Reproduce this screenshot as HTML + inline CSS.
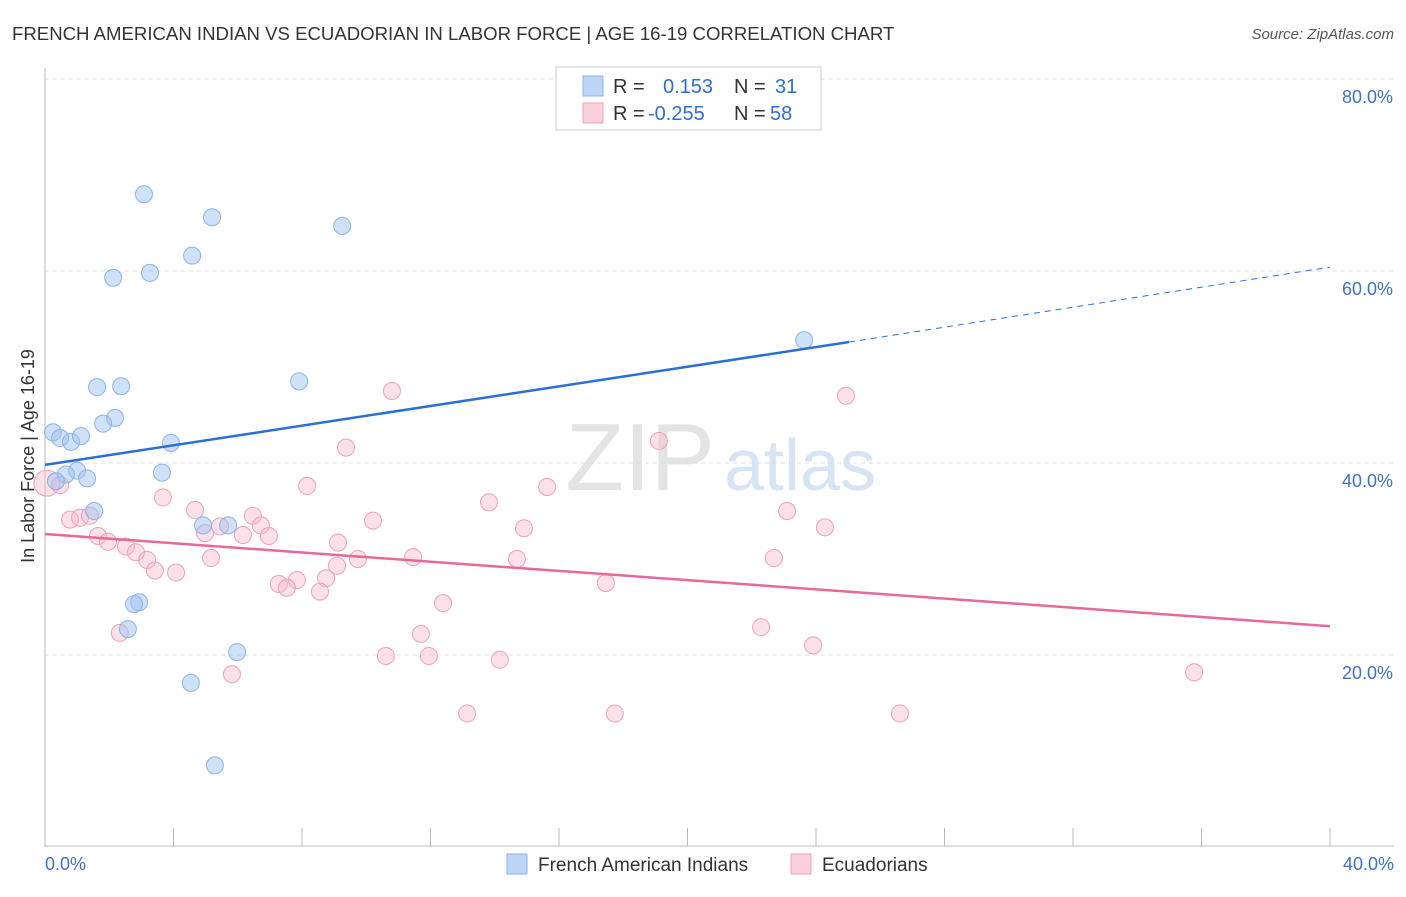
<!DOCTYPE html>
<html><head><meta charset="utf-8"><style>
body{margin:0;background:#fff;font-family:"Liberation Sans",sans-serif}
svg text{font-family:"Liberation Sans",sans-serif}
</style></head><body>
<svg id="c" width="1406" height="892">
<text x="12" y="40" font-size="18.6" fill="#333">FRENCH AMERICAN INDIAN VS ECUADORIAN IN LABOR FORCE | AGE 16-19 CORRELATION CHART</text>
<text x="1394" y="39" font-size="15" fill="#555" font-style="italic" text-anchor="end">Source: ZipAtlas.com</text>
<text x="640" y="490" font-size="96" fill="#e4e4e4" font-family="Liberation Serif" text-anchor="middle">ZIP</text>
<text x="800" y="490" font-size="72" fill="#d6e4f5" text-anchor="middle">atlas</text>
<g id="grid"></g><g id="axes"></g><g id="pts"></g><g id="lines"></g>
<text transform="translate(34,456) rotate(-90)" font-size="18" fill="#333" text-anchor="middle">In Labor Force | Age 16-19</text>
<text x="45" y="870" font-size="18" fill="#3d72c8">0.0%</text>
<text x="1394" y="870" font-size="18" fill="#3d72c8" text-anchor="end">40.0%</text>
<g>
<rect x="556" y="67" width="265" height="63" fill="#fff" stroke="#ccc"/>
<rect x="583" y="76" width="20" height="20" fill="#bcd5f5" stroke="#8ab4e8"/>
<rect x="583" y="103" width="20" height="20" fill="#fbd0dd" stroke="#f0a0b8"/>
<text x="613" y="93" font-size="20" fill="#333">R = <tspan x="663" fill="#2a6fd6">0.153</tspan><tspan x="734" fill="#333">N = </tspan><tspan x="775" fill="#2a6fd6">31</tspan></text>
<text x="613" y="120" font-size="20" fill="#333">R = <tspan x="648" fill="#2a6fd6">-0.255</tspan><tspan x="734" fill="#333">N = </tspan><tspan x="770" fill="#2a6fd6">58</tspan></text>
</g>
<g>
<rect x="507" y="854" width="20" height="20" fill="#bcd5f5" stroke="#8ab4e8"/>
<text x="538" y="871" font-size="19" fill="#333">French American Indians</text>
<rect x="791" y="854" width="20" height="20" fill="#fbd0dd" stroke="#f0a0b8"/>
<text x="822" y="871" font-size="19" fill="#333">Ecuadorians</text>
</g>
</svg>
<script>
const yTicks=[20,40,60,80];
const yTickLabels=["20.0%","40.0%","60.0%","80.0%"];
const blueX=[3.08,5.20,9.25,4.58,2.12,3.27,7.91,1.62,2.37,23.63,2.18,1.81,0.25,0.47,0.81,1.12,3.92,3.64,1.00,0.65,1.31,0.34,1.53,4.92,5.70,2.93,2.77,2.58,5.98,4.54,5.29];
const blueY=[68.0,65.6,64.7,61.6,59.3,59.8,48.5,47.9,48.0,52.8,44.7,44.1,43.2,42.6,42.2,42.8,42.1,39.0,39.2,38.8,38.4,38.1,35.0,33.5,33.5,25.5,25.3,22.7,20.3,17.1,8.5];
const pinkX=[10.80,24.93,19.11,9.37,0.06,0.47,8.16,15.63,3.67,13.82,4.67,23.10,0.78,1.09,1.40,10.21,6.47,6.72,4.98,5.45,24.28,14.91,1.65,1.96,6.16,6.97,9.12,2.52,2.83,3.18,5.17,11.46,14.69,22.69,9.74,3.42,4.08,9.09,8.75,7.84,7.28,7.53,8.56,17.46,12.39,22.29,11.70,2.33,23.91,10.61,11.95,14.16,35.77,5.82,13.14,17.74,26.61];
const pinkY=[47.5,47.0,42.3,41.6,37.9,37.7,37.6,37.5,36.4,35.9,35.1,35.0,34.1,34.3,34.5,34.0,34.5,33.5,32.7,33.4,33.3,33.2,32.4,31.8,32.5,32.4,31.7,31.3,30.7,29.9,30.1,30.2,30.0,30.1,30.0,28.8,28.6,29.3,28.0,27.8,27.4,27.0,26.6,27.5,25.4,22.9,22.2,22.3,21.0,19.9,19.9,19.5,18.2,18.0,13.9,13.9,13.9];
const blueTrend=[39.8,52.6,60.4];
const blueTrendX=[0,25.03,40];
const pinkTrend=[32.6,23.0];
const pinkTrendX=[0,40];
const NS="http://www.w3.org/2000/svg";
const sx=v=>45+v*32.125, sy=v=>847-v*9.6;
function mk(tag,attrs,parent){const e=document.createElementNS(NS,tag);for(const k in attrs)e.setAttribute(k,attrs[k]);parent.appendChild(e);return e;}
const grid=document.getElementById('grid'),axes=document.getElementById('axes'),pts=document.getElementById('pts'),lines=document.getElementById('lines');
yTicks.forEach((t,i)=>{
 const l=mk('line',{x1:45,x2:1394,y1:sy(t),y2:sy(t),stroke:'#ddd','stroke-dasharray':'4,4'},grid);
 
 
 const tx=mk('text',{x:1393,y:sy(t)+24,'font-size':18,fill:'#3d72c8','text-anchor':'end'},grid);
 tx.textContent=yTickLabels[i];
 
 
});
let a=mk('line',{x1:45,x2:45,y1:68,y2:847,stroke:'#bbb'},axes);


a=mk('line',{x1:45,x2:1394,y1:846,y2:846,stroke:'#bbb'},axes);


for(let i=0;i<=10;i++){
 const t=mk('line',{x1:sx(i*4),x2:sx(i*4),y1:828,y2:846,stroke:'#bbb'},axes);
 
 
}
function dots(X,Y,fill,stroke,name){
 X.forEach((x,i)=>{
  const r=(x<0.1&&name==='ecuadorian')?13:8.5;
  const c=mk('circle',{cx:sx(x),cy:sy(Y[i]),r:r,fill:fill,stroke:stroke,'stroke-width':1},pts);
  
  
 });
}
dots(pinkX,pinkY,'rgba(248,180,200,0.4)','#f0a0b8','ecuadorian');
dots(blueX,blueY,'rgba(160,196,240,0.5)','#8ab4e8','french-american-indian');
let l=mk('line',{x1:sx(blueTrendX[0]),y1:sy(blueTrend[0]),x2:sx(blueTrendX[1]),y2:sy(blueTrend[1]),stroke:'#2a6fd6','stroke-width':2.5},lines);


l=mk('line',{x1:sx(blueTrendX[1]),y1:sy(blueTrend[1]),x2:sx(blueTrendX[2]),y2:sy(blueTrend[2]),stroke:'#2a6fd6','stroke-width':1,'stroke-dasharray':'6,5'},lines);


l=mk('line',{x1:sx(pinkTrendX[0]),y1:sy(pinkTrend[0]),x2:sx(pinkTrendX[1]),y2:sy(pinkTrend[1]),stroke:'#e8689a','stroke-width':2.5},lines);


</script>
</body></html>
